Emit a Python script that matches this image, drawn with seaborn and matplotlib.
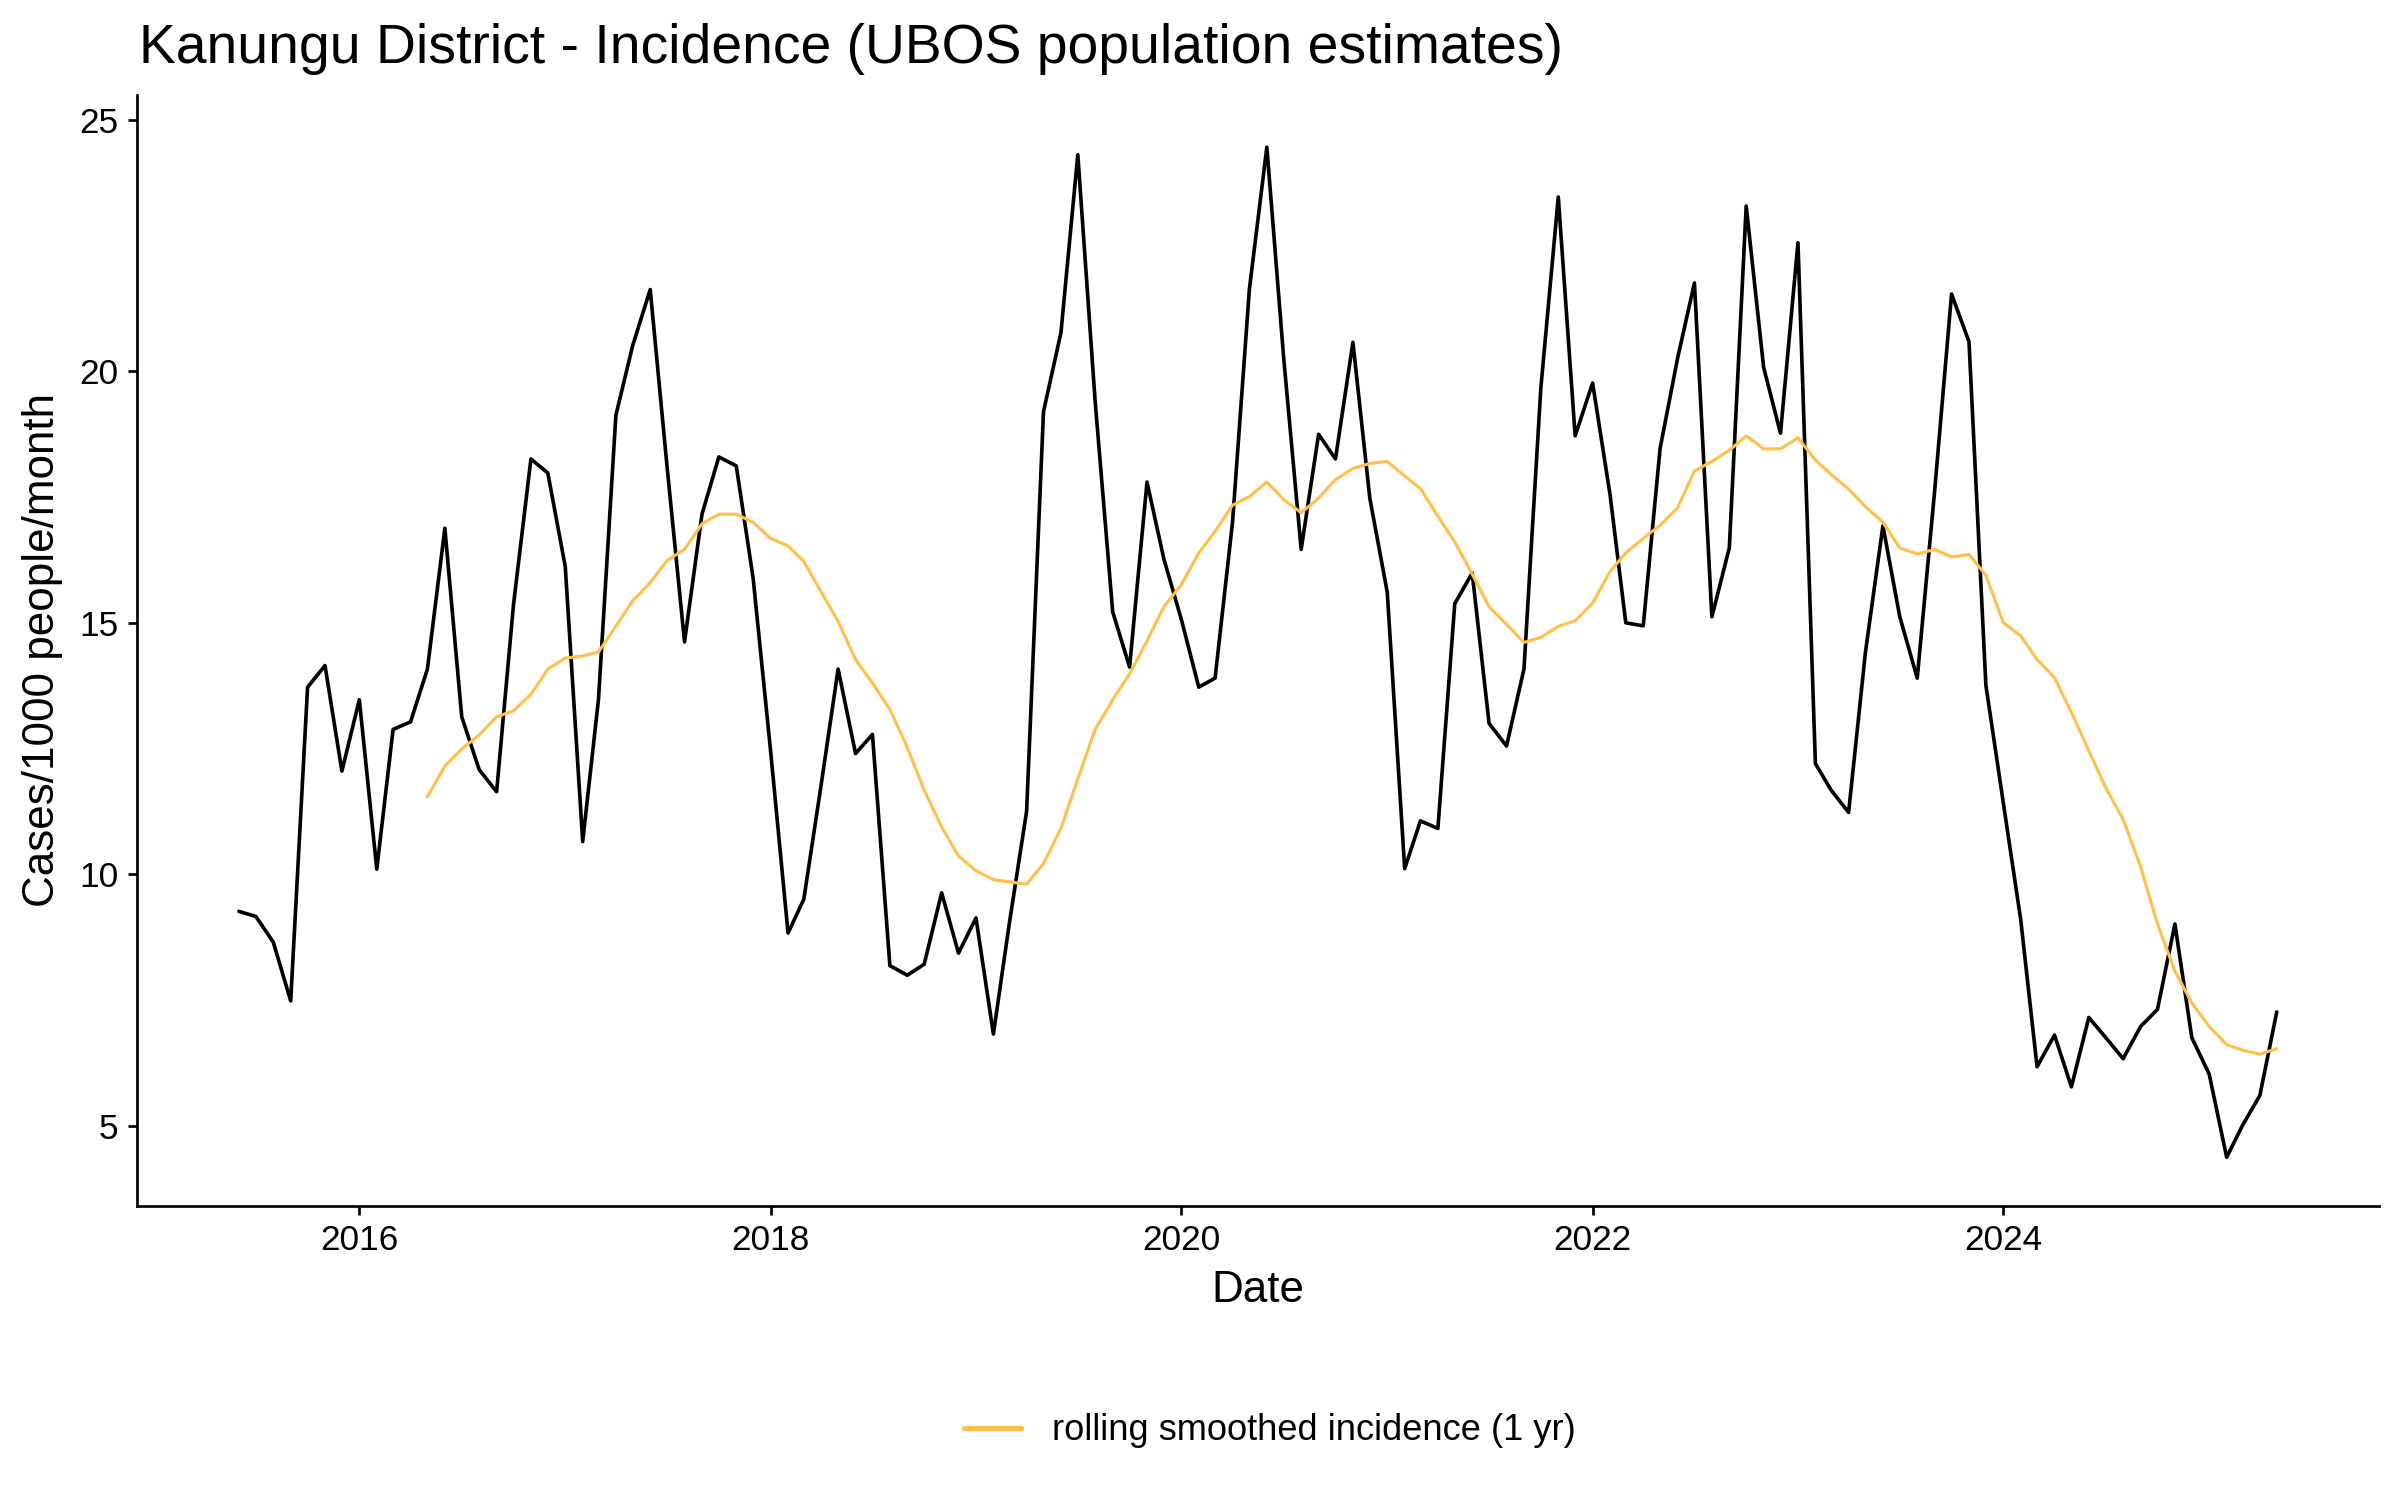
import pandas as pd
import numpy as np
import matplotlib.pyplot as plt
import matplotlib.dates as mdates
import seaborn as sns

# Monthly incidence, Jun 2015 - May 2025 (cases/1000 people/month)
start_month = '2015-06-01'
incidence = [
    9.26, 9.16, 8.65, 7.48, 13.72, 14.15, 12.05, 13.47, 10.10, 12.88, 13.03, 14.08,
    16.88, 13.13, 12.08, 11.64, 15.36, 18.26, 17.98, 16.12, 10.65, 13.47, 19.13, 20.52,
    21.63, 18.10, 14.62, 17.16, 18.30, 18.12, 15.88, 12.45, 8.83, 9.50, 11.79, 14.08,
    12.40, 12.78, 8.18, 7.99, 8.21, 9.63, 8.43, 9.13, 6.82, 9.00, 11.25, 19.20,
    20.77, 24.31, 19.38, 15.22, 14.12, 17.80, 16.27, 15.07, 13.72, 13.90, 17.00, 21.64,
    24.46, 20.26, 16.46, 18.75, 18.26, 20.58, 17.48, 15.61, 10.11, 11.06, 10.91, 15.38,
    15.99, 13.00, 12.55, 14.08, 19.67, 23.47, 18.72, 19.77, 17.55, 15.00, 14.94, 18.47,
    20.26, 21.76, 15.12, 16.49, 23.29, 20.08, 18.77, 22.56, 12.20, 11.67, 11.23, 14.42,
    16.93, 15.12, 13.90, 17.63, 21.54, 20.59, 13.76, 11.42, 9.09, 6.17, 6.80, 5.77,
    7.15, 6.75, 6.33, 6.97, 7.31, 9.01, 6.75, 6.02, 4.37, 5.00, 5.60, 7.26,
]

# 1-year rolling smoothed incidence, May 2016 - May 2025
rolling_start = '2016-05-01'
rolling = [
    11.54, 12.15, 12.49, 12.77, 13.13, 13.25, 13.58, 14.08, 14.30, 14.34, 14.42, 14.93,
    15.44, 15.80, 16.24, 16.46, 16.97, 17.16, 17.16, 17.00, 16.68, 16.53, 16.22, 15.61,
    15.03, 14.27, 13.80, 13.28, 12.52, 11.67, 10.94, 10.36, 10.07, 9.89, 9.85, 9.80,
    10.21, 10.91, 11.90, 12.88, 13.47, 13.98, 14.64, 15.32, 15.76, 16.39, 16.82, 17.34,
    17.51, 17.80, 17.45, 17.19, 17.48, 17.85, 18.07, 18.17, 18.21, 17.92, 17.67, 17.12,
    16.61, 15.97, 15.32, 14.97, 14.61, 14.71, 14.93, 15.04, 15.39, 16.02, 16.39, 16.68,
    16.94, 17.29, 18.02, 18.21, 18.43, 18.72, 18.46, 18.46, 18.68, 18.24, 17.95, 17.66,
    17.31, 17.00, 16.49, 16.37, 16.46, 16.31, 16.36, 15.95, 15.00, 14.74, 14.27, 13.91,
    13.22, 12.45, 11.72, 11.09, 10.15, 9.01, 8.07, 7.44, 6.97, 6.61, 6.50, 6.42, 6.53,
]

df = pd.DataFrame({'date': pd.date_range(start_month, periods=len(incidence), freq='MS'),
                   'incidence': incidence})
df_roll = pd.DataFrame({'date': pd.date_range(rolling_start, periods=len(rolling), freq='MS'),
                        'rolling': rolling})

sns.set_style('ticks')
plt.rcParams['font.family'] = ['Liberation Sans', 'DejaVu Sans']
plt.rcParams['text.color'] = 'black'
plt.rcParams['axes.labelcolor'] = 'black'
plt.rcParams['axes.edgecolor'] = 'black'

fig = plt.figure(figsize=(16, 10), dpi=150)
ax = fig.add_axes([0.0571, 0.196, 0.934, 0.7407])

sns.lineplot(data=df, x='date', y='incidence', color='black', linewidth=1.75, ax=ax)
sns.lineplot(data=df_roll, x='date', y='rolling', color='#FFC04D', linewidth=1.5, ax=ax,
             label='rolling smoothed incidence (1 yr)')

ax.margins(x=0.05)
ax.set_ylim(3.4, 25.5)
ax.set_yticks([5, 10, 15, 20, 25])
ax.xaxis.set_major_locator(mdates.YearLocator(2))
ax.xaxis.set_major_formatter(mdates.DateFormatter('%Y'))

for side in ['top', 'right']:
    ax.spines[side].set_visible(False)
for side in ['left', 'bottom']:
    ax.spines[side].set_linewidth(1.3)
    ax.spines[side].set_color('black')
ax.tick_params(axis='both', length=4.3, width=1.3, labelsize=16.9, colors='black', pad=4.5)

ax.set_xlabel('Date', fontsize=21.1, labelpad=6, color='black')
ax.set_ylabel('Cases/1000 people/month', fontsize=21.1, labelpad=8, color='black')

fig.text(139 / 2400, 1 - 63 / 1500, 'Kanungu District - Incidence (UBOS population estimates)',
         fontsize=26.5, va='baseline', ha='left', color='black')

leg = ax.legend(loc='center', bbox_to_anchor=(1270 / 2400, 1 - 1431 / 1500),
                bbox_transform=fig.transFigure, frameon=False, fontsize=17.4,
                handlelength=1.57, handletextpad=0.85)
for t in leg.get_texts():
    t.set_color('black')
for h in leg.get_lines():
    h.set_linewidth(2.6)

plt.savefig('out.png', dpi=150)
